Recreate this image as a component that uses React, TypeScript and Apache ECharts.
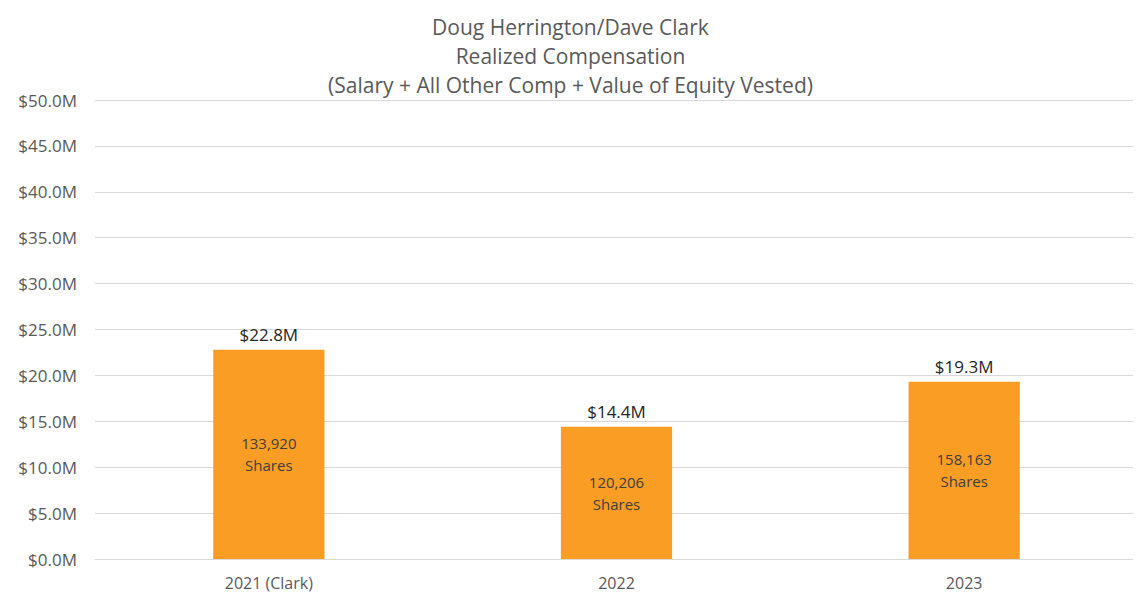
import React, { useEffect, useRef } from "react";
import * as echarts from "echarts";

const titleLines = [
  "Doug Herrington/Dave Clark",
  "Realized Compensation",
  "(Salary + All Other Comp + Value of Equity Vested)",
];
const categories = ["2021 (Clark)", "2022", "2023"];
const values = [22.8, 14.4, 19.3];
const shares = ["133,920", "120,206", "158,163"];

const FONT = "'Open Sans', sans-serif";

export default function App() {
  const ref = useRef<HTMLDivElement>(null);
  useEffect(() => {
    if (!ref.current) return;
    const chart = echarts.init(ref.current, undefined, { renderer: "svg" });
    chart.setOption({
      animation: false,
      backgroundColor: "#ffffff",
      title: {
        text: titleLines.join("\n"),
        left: "center",
        top: 7,
        textStyle: {
          fontFamily: FONT,
          fontSize: 21,
          fontWeight: "normal",
          color: "#595959",
          lineHeight: 29,
        },
      },
      grid: { left: 95, right: 3, top: 100, bottom: 48, containLabel: false },
      xAxis: {
        type: "category",
        data: categories,
        axisLine: { show: true, lineStyle: { color: "#d9d9d9", width: 1 } },
        axisTick: { show: false },
        axisLabel: {
          fontFamily: FONT,
          fontSize: 16,
          color: "#595959",
          margin: 16,
        },
      },
      yAxis: {
        type: "value",
        min: 0,
        max: 50,
        interval: 5,
        axisLine: { show: false },
        axisTick: { show: false },
        splitLine: { lineStyle: { color: "#d9d9d9", width: 1 } },
        axisLabel: {
          fontFamily: FONT,
          fontSize: 17,
          color: "#595959",
          margin: 18,
          formatter: (v: number) => "$" + v.toFixed(1) + "M",
        },
      },
      series: [
        {
          type: "bar",
          data: values,
          barWidth: "32%",
          itemStyle: { color: "#F99D25" },
          label: {
            show: true,
            position: "top",
            distance: 7,
            fontFamily: FONT,
            fontSize: 17,
            color: "#262626",
            formatter: (p: any) => "$" + Number(p.value).toFixed(1) + "M",
          },
        },
        {
          type: "bar",
          data: values,
          barWidth: "32%",
          barGap: "-100%",
          itemStyle: { color: "transparent" },
          silent: true,
          label: {
            show: true,
            position: "inside",
            fontFamily: FONT,
            fontSize: 15,
            lineHeight: 22,
            color: "#404040",
            formatter: (p: any) => shares[p.dataIndex] + "\nShares",
          },
        },
      ],
    });
    return () => chart.dispose();
  }, []);
  return <div ref={ref} style={{ width: 1141, height: 607, margin: -8 }} />;
}
